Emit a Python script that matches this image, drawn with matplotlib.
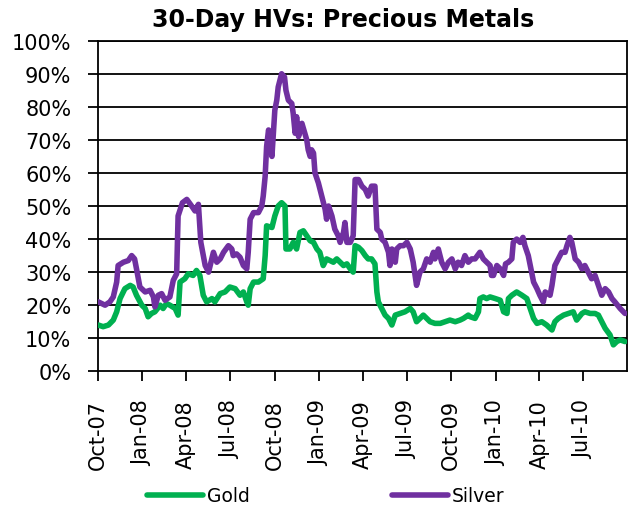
import numpy as np
import matplotlib
matplotlib.use('Agg')
import matplotlib.pyplot as plt
import matplotlib.dates as mdates
from matplotlib.ticker import PercentFormatter
import pandas as pd


gold_dates = ['2007-10-02', '2007-10-12', '2007-10-23', '2007-11-02', '2007-11-09', '2007-11-16',
              '2007-11-26', '2007-12-07', '2007-12-13', '2007-12-20', '2007-12-31', '2008-01-07',
              '2008-01-13', '2008-01-20', '2008-01-27', '2008-02-07', '2008-02-13', '2008-02-20',
              '2008-02-27', '2008-03-09', '2008-03-15', '2008-03-19', '2008-03-29', '2008-04-05',
              '2008-04-15', '2008-04-22', '2008-04-29', '2008-05-06', '2008-05-13', '2008-05-24',
              '2008-05-30', '2008-06-10', '2008-06-20', '2008-06-30', '2008-07-11', '2008-07-21',
              '2008-07-28', '2008-08-04', '2008-08-07', '2008-08-11', '2008-08-18', '2008-08-28',
              '2008-09-07', '2008-09-11', '2008-09-14', '2008-09-25', '2008-10-01', '2008-10-08',
              '2008-10-15', '2008-10-22', '2008-10-24', '2008-11-01', '2008-11-08', '2008-11-15',
              '2008-11-22', '2008-11-29', '2008-12-06', '2008-12-13', '2008-12-20', '2008-12-27',
              '2009-01-02', '2009-01-09', '2009-01-16', '2009-01-23', '2009-01-30', '2009-02-06',
              '2009-02-13', '2009-02-20', '2009-02-27', '2009-03-06', '2009-03-12', '2009-03-16',
              '2009-03-23', '2009-03-30', '2009-04-06', '2009-04-12', '2009-04-19', '2009-04-26',
              '2009-04-30', '2009-05-03', '2009-05-10', '2009-05-17', '2009-05-24', '2009-05-31',
              '2009-06-07', '2009-06-17', '2009-06-27', '2009-07-08', '2009-07-14', '2009-07-21',
              '2009-07-28', '2009-08-04', '2009-08-11', '2009-08-18', '2009-08-28', '2009-09-08',
              '2009-09-18', '2009-09-28', '2009-10-09', '2009-10-19', '2009-10-26', '2009-11-05',
              '2009-11-09', '2009-11-19', '2009-11-26', '2009-11-29', '2009-12-06', '2009-12-13',
              '2009-12-20', '2009-12-31', '2010-01-10', '2010-01-17', '2010-01-24', '2010-01-27',
              '2010-02-03', '2010-02-13', '2010-02-24', '2010-03-06', '2010-03-13', '2010-03-20',
              '2010-03-27', '2010-04-06', '2010-04-16', '2010-04-27', '2010-05-03', '2010-05-10',
              '2010-05-21', '2010-05-31', '2010-06-10', '2010-06-17', '2010-06-28', '2010-07-04',
              '2010-07-15', '2010-07-25', '2010-08-01', '2010-08-08', '2010-08-15', '2010-08-25',
              '2010-09-01', '2010-09-08', '2010-09-15', '2010-09-25']
gold_hv = [14, 13.5, 14, 15.5, 18, 22, 25, 26, 25.5, 23, 20, 19,
           16.5, 17.5, 18, 20, 19, 20.5, 20, 19, 17, 27, 28, 29.5,
           29, 30.5, 29, 23, 21, 22, 21, 23.5, 24, 25.5, 25, 23,
           24, 21, 20, 25, 27, 27, 28, 35, 44, 43.5, 47, 50,
           51, 50, 37, 37, 39, 37, 42, 42.5, 41, 39.5, 39, 37,
           36, 32, 34, 33.5, 33, 34, 33, 32, 32.5, 31, 30, 38,
           37.5, 36.5, 35, 34, 34, 32.5, 24, 21, 19, 17, 16, 14,
           17, 17.5, 18, 19, 18, 15, 16, 17, 16, 15, 14.5, 14.5,
           15, 15.5, 15, 15.5, 16, 17, 16.5, 16, 18, 22, 22.5, 22,
           22.5, 22, 21.5, 18, 17.5, 22, 23, 24, 23, 22, 19, 16,
           14.5, 15, 14, 12.5, 15, 16, 17, 17.5, 18, 15.5, 17.5, 18,
           17.5, 17.5, 17, 15, 13, 11, 8, 9, 9.5, 9]

silver_dates = ['2007-10-02', '2007-10-16', '2007-10-26', '2007-11-02', '2007-11-09', '2007-11-12',
                '2007-11-23', '2007-12-03', '2007-12-10', '2007-12-16', '2007-12-20', '2007-12-27',
                '2008-01-07', '2008-01-17', '2008-01-24', '2008-01-27', '2008-02-03', '2008-02-10',
                '2008-02-17', '2008-02-27', '2008-03-05', '2008-03-12', '2008-03-15', '2008-03-24',
                '2008-04-02', '2008-04-12', '2008-04-19', '2008-04-26', '2008-05-01', '2008-05-10',
                '2008-05-17', '2008-05-27', '2008-06-03', '2008-06-10', '2008-06-17', '2008-06-27',
                '2008-07-04', '2008-07-07', '2008-07-14', '2008-07-21', '2008-07-28', '2008-08-04',
                '2008-08-07', '2008-08-11', '2008-08-18', '2008-08-28', '2008-09-04', '2008-09-07',
                '2008-09-11', '2008-09-14', '2008-09-18', '2008-09-21', '2008-09-25', '2008-09-28',
                '2008-10-01', '2008-10-05', '2008-10-08', '2008-10-15', '2008-10-21', '2008-10-24',
                '2008-10-29', '2008-11-05', '2008-11-08', '2008-11-12', '2008-11-15', '2008-11-19',
                '2008-11-26', '2008-12-02', '2008-12-06', '2008-12-09', '2008-12-13', '2008-12-16',
                '2008-12-20', '2008-12-23', '2008-12-30', '2009-01-06', '2009-01-13', '2009-01-16',
                '2009-01-20', '2009-01-27', '2009-02-02', '2009-02-09', '2009-02-13', '2009-02-20',
                '2009-02-23', '2009-02-27', '2009-03-06', '2009-03-12', '2009-03-16', '2009-03-23',
                '2009-03-30', '2009-04-06', '2009-04-12', '2009-04-19', '2009-04-26', '2009-04-30',
                '2009-05-07', '2009-05-10', '2009-05-17', '2009-05-24', '2009-05-27', '2009-05-31',
                '2009-06-07', '2009-06-10', '2009-06-17', '2009-06-24', '2009-07-01', '2009-07-08',
                '2009-07-14', '2009-07-21', '2009-07-28', '2009-08-04', '2009-08-11', '2009-08-18',
                '2009-08-25', '2009-08-28', '2009-09-04', '2009-09-11', '2009-09-18', '2009-09-25',
                '2009-10-02', '2009-10-09', '2009-10-15', '2009-10-22', '2009-10-29', '2009-11-05',
                '2009-11-12', '2009-11-19', '2009-11-29', '2009-12-06', '2009-12-13', '2009-12-20',
                '2009-12-23', '2009-12-27', '2010-01-03', '2010-01-10', '2010-01-17', '2010-01-21',
                '2010-01-27', '2010-02-03', '2010-02-06', '2010-02-13', '2010-02-20', '2010-02-26',
                '2010-03-02', '2010-03-09', '2010-03-16', '2010-03-20', '2010-03-27', '2010-04-02',
                '2010-04-09', '2010-04-13', '2010-04-23', '2010-04-27', '2010-05-03', '2010-05-10',
                '2010-05-17', '2010-05-24', '2010-05-28', '2010-06-03', '2010-06-07', '2010-06-14',
                '2010-06-21', '2010-06-28', '2010-07-04', '2010-07-11', '2010-07-18', '2010-07-25',
                '2010-08-01', '2010-08-08', '2010-08-15', '2010-08-22', '2010-08-29', '2010-09-04',
                '2010-09-15', '2010-09-25']
silver_hv = [21, 20, 21, 22.5, 27, 32, 33, 33.5, 35, 34, 31, 25.5,
             24, 24.5, 22.5, 19.5, 23, 23.5, 21.5, 22.5, 27.5, 29.5, 47, 51,
             52, 50, 48.5, 50.5, 39, 32, 30, 36, 33, 34, 36, 38,
             37, 35, 35.5, 34.5, 32, 31, 36, 46, 48, 48, 50, 53,
             59, 68, 73, 71, 65, 72, 79, 82, 86, 90, 89, 85,
             82, 81, 78, 72, 77, 71, 75, 72, 70, 67, 65, 67,
             66, 60, 57, 53, 49, 46, 50, 47, 43, 41, 39, 42,
             45, 39, 39, 41, 58, 58, 56, 55, 53, 56, 56, 43,
             42, 40, 39, 36, 32, 37, 33, 37, 38, 38, 39, 37,
             33, 26, 30, 31, 34, 33, 36, 34, 37, 33, 31, 33,
             34, 31, 33, 32, 35, 33, 34, 34, 36, 34, 33, 32,
             29, 29, 32, 31, 29, 32.5, 33, 34, 39, 40, 39, 40.5,
             38, 35, 30, 27, 25, 23, 21, 24, 23, 26, 32, 34,
             36, 36, 38, 40.5, 39, 34, 33, 31, 32, 30, 28, 29,
             26, 23, 25, 24, 22, 21, 19, 17.5]

quarter_ticks = ['2007-10-01', '2008-01-01', '2008-04-01', '2008-07-01', '2008-10-01', '2009-01-01',
                 '2009-04-01', '2009-07-01', '2009-10-01', '2010-01-01', '2010-04-01', '2010-07-01']


def draw_hv_chart(title=''):
    gold = pd.Series(np.array(gold_hv) / 100., index=pd.to_datetime(gold_dates))
    silver = pd.Series(np.array(silver_hv) / 100., index=pd.to_datetime(silver_dates))

    fig = plt.figure(figsize=(6.29, 5.06), dpi=100)
    ax = fig.add_axes([0.1555, 0.2642, 0.842, 0.6534])

    for y in np.arange(0.1, 1.01, 0.1):
        ax.axhline(y, color='black', lw=1.3, zorder=1)

    ax.plot(gold.index, gold.values, color='#00B050', lw=4, label='Gold',
            solid_joinstyle='round', solid_capstyle='round', zorder=3)
    ax.plot(silver.index, silver.values, color='#7030A0', lw=4, label='Silver',
            solid_joinstyle='round', solid_capstyle='round', zorder=3)

    ax.set_ylim(0, 1)
    ax.set_xlim(pd.Timestamp('2007-10-01'), pd.Timestamp('2010-09-30'))
    ax.yaxis.set_major_locator(plt.MultipleLocator(0.1))
    ax.yaxis.set_major_formatter(PercentFormatter(1.0, decimals=0))
    ax.set_xticks(pd.to_datetime(quarter_ticks))
    ax.xaxis.set_major_formatter(mdates.DateFormatter('%b-%y'))
    plt.setp(ax.get_xticklabels(), rotation=90)

    for s in ax.spines.values():
        s.set_color('black')
        s.set_linewidth(1.3)
    ax.tick_params(axis='both', labelsize=15, length=7, width=1.3, color='black', direction='out')
    ax.tick_params(axis='y', pad=12)
    ax.tick_params(axis='x', pad=13)

    fig.text(0.545, 0.947, title, ha='center', va='baseline', fontsize=17, fontweight='bold')

    fig.legend(loc='center', bbox_to_anchor=(0.518, 0.018), ncol=2, frameon=False, fontsize=13.5,
               handlelength=3.0, handletextpad=0.2, columnspacing=7.6, borderaxespad=0)

    plt.savefig('out.png', dpi=100)
    return fig


if __name__ == '__main__':
    draw_hv_chart(title='30-Day HVs: Precious Metals')
